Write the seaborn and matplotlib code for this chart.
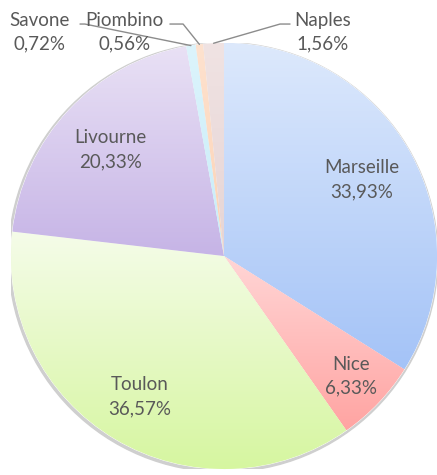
import numpy as np
import matplotlib
matplotlib.use("Agg")
import matplotlib.pyplot as plt
from matplotlib.colors import LinearSegmentedColormap
from matplotlib.patches import Circle
import seaborn as sns

# data
ports = ["Marseille", "Nice", "Toulon", "Livourne", "Savone", "Piombino", "Naples"]
shares = [33.93, 6.33, 36.57, 20.33, 0.72, 0.56, 1.56]
pct_labels = ["33,93%", "6,33%", "36,57%", "20,33%", "0,72%", "0,56%", "1,56%"]

# gradient colours (top, bottom) per slice
top_cols = ["#dde9fc", "#ffd6d6", "#f5fce9", "#e9e1f5", "#dcf4fc", "#fee2cf", "#f0e3e3"]
bot_cols = ["#a4c3f7", "#ffa4a2", "#d6f6a0", "#c6b4e6", "#c8ecf8", "#fcd2b4", "#e6d4d4"]

sns.set_theme(style="white")
plt.rcParams["font.family"] = ["Lato", "DejaVu Sans"]
text_col = "#595959"
fs = 13.5
ls = 1.5

fig = plt.figure(figsize=(4.37, 4.75), dpi=100)
ax = fig.add_axes([11 / 437, 6 / 475, 426 / 437, 426 / 475])

# soft shadow rim
ax.add_patch(Circle((-0.004, -0.006), 1.008, color="#cfcfcf", zorder=0))

wedges, _ = ax.pie(shares, startangle=90, counterclock=False, radius=1,
                   wedgeprops=dict(linewidth=0.6, edgecolor="white"))

for w, c1, c2 in zip(wedges, top_cols, bot_cols):
    w.set_facecolor(c2)
    bb = w.get_path().get_extents()
    cmap = LinearSegmentedColormap.from_list("g", [c2, c1])
    grad = np.linspace(0, 1, 256).reshape(-1, 1)
    im = ax.imshow(grad, cmap=cmap, origin="lower", aspect="auto",
                   extent=[bb.x0, bb.x1, bb.y0, bb.y1], zorder=1.5)
    im.set_clip_path(w)
    w.set_zorder(1)

ax.set_xlim(-1, 1)
ax.set_ylim(-1, 1)
ax.set_aspect("equal")
ax.axis("off")

# inside labels
inner_dist = [0.74, 0.82, 0.77, 0.73]
for i in range(4):
    w = wedges[i]
    mid = np.deg2rad((w.theta1 + w.theta2) / 2)
    r = inner_dist[i]
    ax.text(r * np.cos(mid), r * np.sin(mid), f"{ports[i]}\n{pct_labels[i]}",
            ha="center", va="center", fontsize=fs, color=text_col,
            linespacing=ls, zorder=3)

# outside labels with leader lines
text_pos = [(-0.864, 1.05), (-0.469, 1.05), (0.462, 1.05)]
elbows = [((-0.653, 1.089), (-0.676, 1.089)),
          ((-0.192, 1.089), (-0.254, 1.089)),
          ((0.263, 1.089), (0.31, 1.089))]
for k, i in enumerate(range(4, 7)):
    w = wedges[i]
    mid = np.deg2rad((w.theta1 + w.theta2) / 2)
    ex, ey = np.cos(mid), np.sin(mid)
    (bx, by), (cx, cy) = elbows[k]
    ax.plot([ex, bx, cx], [ey, by, cy], color="#8c8c8c", lw=1, clip_on=False, zorder=3)
    tx, ty = text_pos[k]
    ax.text(tx, ty, f"{ports[i]}\n{pct_labels[i]}", ha="center", va="center",
            fontsize=fs, color=text_col, linespacing=ls, zorder=4)

fig.savefig("out.png", dpi=100)
